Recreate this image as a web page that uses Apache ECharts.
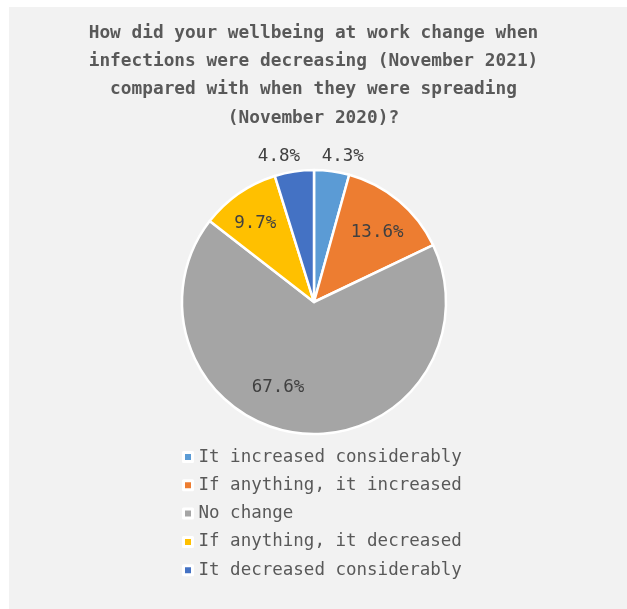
<!DOCTYPE html>
<html>
<head>
<meta charset="utf-8">
<script src="https://cdn.jsdelivr.net/npm/echarts@6/dist/echarts.min.js"></script>
<style>
  html, body { margin: 0; padding: 0; background: #ffffff; }
  #chart { width: 627px; height: 609px; }
</style>
</head>
<body>
<div id="chart"></div>
<script>
// Survey question and answers
const titleLines = [
  'How did your wellbeing at work change when',
  'infections were decreasing (November 2021)',
  'compared with when they were spreading',
  '(November 2020)?'
];
const categories = [
  'It increased considerably',
  'If anything, it increased',
  'No change',
  'If anything, it decreased',
  'It decreased considerably'
];
// Share of respondents, percent
const shares = [4.3, 13.6, 67.6, 9.7, 4.8];
const sliceColors = ['#5B9BD5', '#ED7D31', '#A5A5A5', '#FFC000', '#4472C4'];

const FONT = "'DejaVu Sans Mono', 'Liberation Mono', monospace";
const CX = 314, CY = 302, R = 132;

// Thin slices get their label outside the pie, the rest inside
const outerLabelled = [0, 4];
const labelNudge = { 0: [9, 0], 1: [-3, 9], 2: [-25, -17], 3: [0, 6], 4: [-13, 0] };

const fmt = p => p.value.toFixed(1) + '%';

// Transparent ring that only carries labels at its mid radius
function labelRing(radius, showIdx) {
  return {
    type: 'pie',
    silent: true,
    legendHoverLink: false,
    z: 5,
    center: [CX, CY],
    radius: radius,
    startAngle: 90,
    clockwise: true,
    avoidLabelOverlap: false,
    itemStyle: { color: 'rgba(0,0,0,0)', borderWidth: 0 },
    emphasis: { disabled: true },
    labelLine: { show: false },
    data: shares.map((v, i) => ({
      name: categories[i],
      value: v,
      label: {
        show: showIdx.includes(i),
        offset: labelNudge[i] || [0, 0]
      }
    })),
    label: {
      position: 'inside',
      formatter: fmt,
      color: '#404040',
      fontFamily: FONT,
      fontSize: 17.5
    }
  };
}

const chart = echarts.init(document.getElementById('chart'), null, { renderer: 'canvas' });

chart.setOption({
  backgroundColor: '#ffffff',
  animation: false,
  graphic: [{
    type: 'rect',
    z: -10,
    shape: { x: 9, y: 7, width: 618, height: 602 },
    style: { fill: '#F2F2F2' }
  }],
  title: {
    text: titleLines.join('\n'),
    left: 'center',
    top: 19,
    padding: 0,
    textStyle: {
      fontFamily: FONT,
      fontSize: 17.8,
      fontWeight: 'bold',
      color: '#595959',
      lineHeight: 28.3
    }
  },
  legend: {
    orient: 'vertical',
    left: 182,
    top: 447,
    padding: 0,
    itemWidth: 9,
    itemHeight: 9,
    itemGap: 8.3,
    icon: 'rect',
    data: categories,
    itemStyle: { borderColor: '#ffffff', borderWidth: 3 },
    textStyle: {
      fontFamily: FONT,
      fontSize: 17.5,
      color: '#595959',
      lineHeight: 20,
      padding: [0, 0, 0, 1]
    }
  },
  series: [
    {
      type: 'pie',
      center: [CX, CY],
      radius: R,
      startAngle: 90,
      clockwise: true,
      label: { show: false },
      labelLine: { show: false },
      itemStyle: { borderColor: '#ffffff', borderWidth: 2.5 },
      emphasis: { scale: false },
      data: shares.map((v, i) => ({
        name: categories[i],
        value: v,
        itemStyle: { color: sliceColors[i] }
      }))
    },
    labelRing([70, 130], [1, 2, 3]),
    labelRing([134, 154], outerLabelled)
  ]
});
</script>
</body>
</html>
